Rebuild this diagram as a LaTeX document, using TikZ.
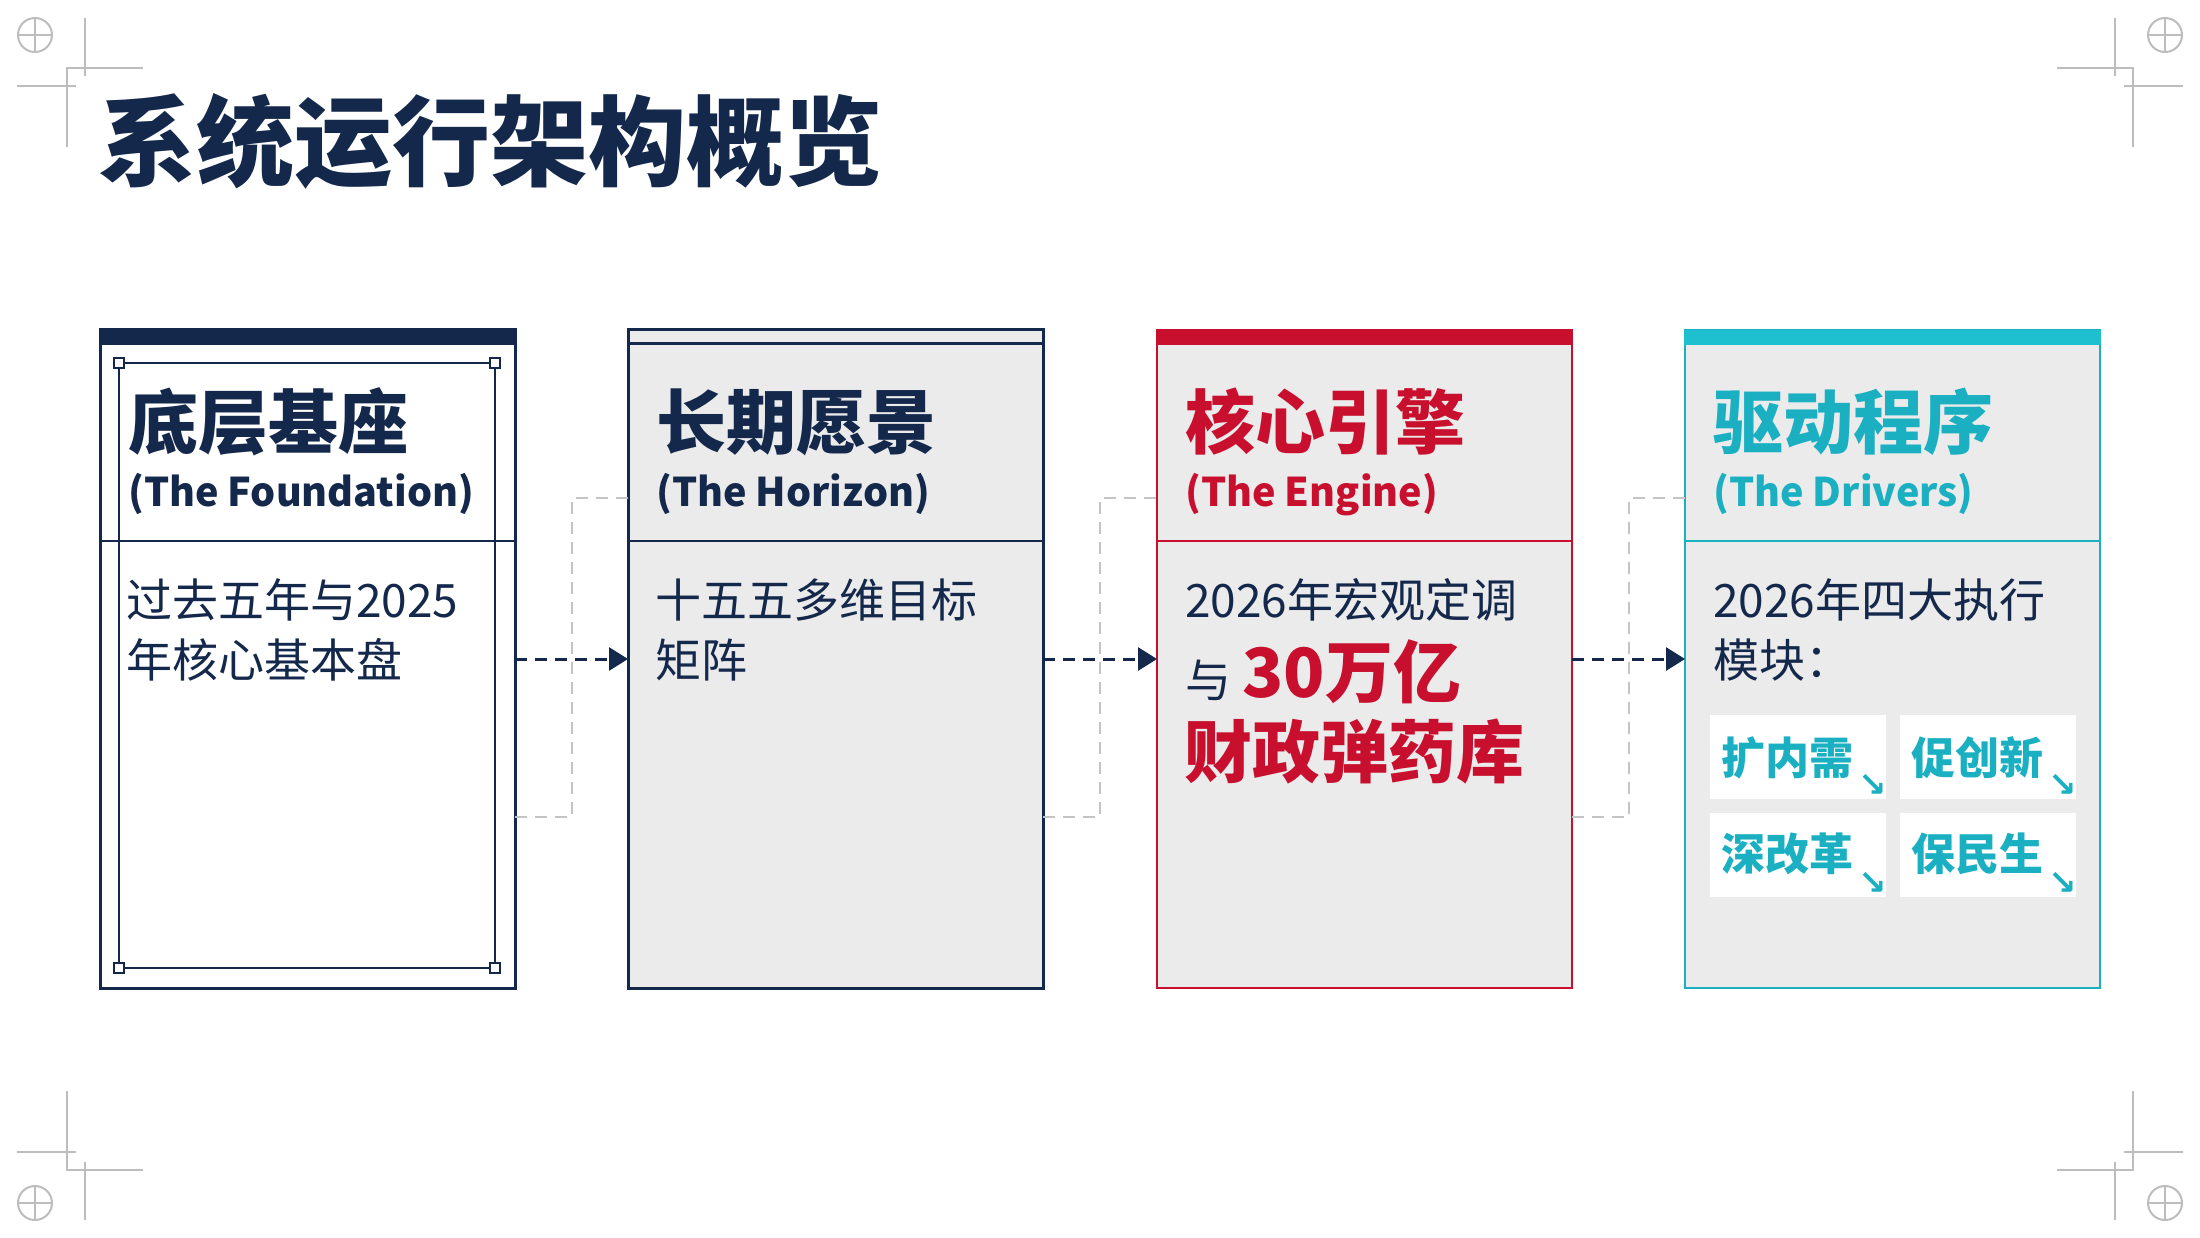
\documentclass[tikz,border=0pt]{standalone}
\usepackage{fontspec}
\setmainfont{Noto Sans CJK SC}
\newfontfamily\symfont{DejaVu Sans}
\usetikzlibrary{arrows.meta,calc}
\definecolor{navy}{HTML}{14284B}
\definecolor{cred}{HTML}{C8102E}
\definecolor{tealc}{HTML}{1AB0C2}
\definecolor{tealbar}{HTML}{1EC0CF}
\definecolor{panel}{HTML}{EBEBEB}
\definecolor{markgray}{HTML}{BDBDBD}
\definecolor{dashgray}{HTML}{C4C4C4}
\begin{document}
\begin{tikzpicture}[x=1pt,y=-1pt,
  panelbox/.style={line width=3pt, minimum width=415pt, minimum height=658pt, anchor=north west, inner sep=0pt, outer sep=0pt},
  titletxt/.style={anchor=base west, inner sep=0pt, font=\fontsize{98}{110}\selectfont\bfseries, text=navy},
  headcn/.style={anchor=base west, inner sep=0pt, font=\fontsize{70}{80}\selectfont\bfseries},
  headen/.style={anchor=base west, inner sep=0pt, font=\fontsize{39.5}{48}\selectfont\bfseries},
  bodytxt/.style={anchor=base west, inner sep=0pt, font=\fontsize{46}{56}\selectfont, text=navy},
  bigred/.style={anchor=base west, inner sep=0pt, font=\fontsize{68}{76}\selectfont\bfseries, text=cred},
  tilebox/.style={fill=white, minimum width=176pt, minimum height=84pt, anchor=north west, inner sep=0pt},
  tiletxt/.style={anchor=base west, inner sep=0pt, font=\fontsize{44}{50}\selectfont\bfseries, text=tealc},
  tilearrow/.style={inner sep=0pt, font=\symfont\fontsize{34}{34}\selectfont\bfseries, text=tealc},
  flow/.style={draw=navy, line width=3pt, dash pattern=on 12pt off 8pt, -{Triangle[length=19pt,width=23pt]}},
  bracket/.style={draw=dashgray, line width=2pt, dash pattern=on 12pt off 8pt},
  cropmark/.style={draw=markgray, line width=2pt},
  handle/.style={draw=navy, fill=white, line width=2pt, minimum size=10pt, inner sep=0pt}
]
\useasboundingbox (0,0) rectangle (2200,1238);
\fill[white] (0,0) rectangle (2200,1238);

% crop marks
\foreach \sx/\sy/\ox/\oy in {1/1/0/0, -1/1/2200/0, 1/-1/0/1238, -1/-1/2200/1238}{
  \begin{scope}[shift={(\ox,\oy)}, xscale=\sx, yscale=\sy]
    \draw[cropmark] (35,35) circle[radius=17];
    \draw[cropmark] (17,35) -- (53,35) (35,17) -- (35,53);
    \draw[cropmark] (85,18) -- (85,76);
    \draw[cropmark] (17,86) -- (76,86);
    \draw[cropmark] (143,68) -- (67,68) -- (67,147);
  \end{scope}
}

% title
\node[titletxt] (title) at (98,179) {系统运行架构概览};

% panels
\node[panelbox, draw=navy, fill=white] (b1) at (100,330) {};
\node[panelbox, draw=navy, fill=panel] (b2) at (628,330) {};
\node[panelbox, draw=cred, line width=2.5pt, fill=panel] (b3) at (1157,330) {};
\node[panelbox, draw=tealc, line width=2.5pt, fill=panel] (b4) at (1685,330) {};

% top bars
\fill[navy] ([xshift=-1.5pt]b1.north west) rectangle ([xshift=1.5pt,yshift=-15pt]b1.north east);
\draw[navy, line width=3pt] ([yshift=-14pt]b2.north west) -- ([yshift=-14pt]b2.north east);
\fill[cred] ([xshift=-1.25pt]b3.north west) rectangle ([xshift=1.25pt,yshift=-15pt]b3.north east);
\fill[tealbar] ([xshift=-1.25pt]b4.north west) rectangle ([xshift=1.25pt,yshift=-15pt]b4.north east);

% header dividers
\draw[navy, line width=2.5pt] ([yshift=-211pt]b1.north west) -- ([yshift=-211pt]b1.north east);
\draw[navy, line width=2.5pt] ([yshift=-211pt]b2.north west) -- ([yshift=-211pt]b2.north east);
\draw[cred, line width=2pt] ([yshift=-211pt]b3.north west) -- ([yshift=-211pt]b3.north east);
\draw[tealc, line width=2pt] ([yshift=-211pt]b4.north west) -- ([yshift=-211pt]b4.north east);

% inner frame of foundation
\coordinate (f1) at (119,363);
\coordinate (f2) at (495,363);
\coordinate (f3) at (495,968);
\coordinate (f4) at (119,968);
\draw[navy, line width=2pt] (f1) -- (f2) -- (f3) -- (f4) -- cycle;
\node[handle] (h1) at (f1) {};
\node[handle] (h2) at (f2) {};
\node[handle] (h3) at (f3) {};
\node[handle] (h4) at (f4) {};

% headers
\node[headcn, text=navy] (t1) at (128,448) {底层基座};
\node[headen, text=navy] (s1) at (128,506) {(The Foundation)};
\node[headcn, text=navy] (t2) at (656,448) {长期愿景};
\node[headen, text=navy] (s2) at (656,506) {(The Horizon)};
\node[headcn, text=cred] (t3) at (1185,448) {核心引擎};
\node[headen, text=cred] (s3) at (1185,506) {(The Engine)};
\node[headcn, text=tealc] (t4) at (1713,448) {驱动程序};
\node[headen, text=tealc] (s4) at (1713,506) {(The Drivers)};

% bodies
\node[bodytxt] (p1a) at (126,617) {过去五年与2025};
\node[bodytxt] (p1b) at (126,677) {年核心基本盘};
\node[bodytxt] (p2a) at (655,617) {十五五多维目标};
\node[bodytxt] (p2b) at (655,677) {矩阵};
\node[bodytxt] (p3a) at (1185,617) {2026年宏观定调};
\node[bodytxt] (p3b) at (1185,697) {与};
\node[bigred] (p3c) at (1242,697) {30万亿};
\node[bigred] (p3d) at (1184,777) {财政弹药库};
\node[bodytxt] (p4a) at (1713,617) {2026年四大执行};
\node[bodytxt] (p4b) at (1713,677) {模块：};

% driver tiles
\node[tilebox] (k1) at (1710,715) {};
\node[tilebox] (k2) at (1900,715) {};
\node[tilebox] (k3) at (1710,813) {};
\node[tilebox] (k4) at (1900,813) {};
\node[tiletxt] (k1t) at (1721,774) {扩内需};
\node[tiletxt] (k2t) at (1911,774) {促创新};
\node[tiletxt] (k3t) at (1721,870) {深改革};
\node[tiletxt] (k4t) at (1911,870) {保民生};
\node[tilearrow] (k1a) at ([xshift=-14pt,yshift=14pt]k1.south east) {↘};
\node[tilearrow] (k2a) at ([xshift=-14pt,yshift=14pt]k2.south east) {↘};
\node[tilearrow] (k3a) at ([xshift=-14pt,yshift=14pt]k3.south east) {↘};
\node[tilearrow] (k4a) at ([xshift=-14pt,yshift=14pt]k4.south east) {↘};

% connectors
\coordinate (m12) at ($(b1.east)!0.5!(b2.west)$);
\coordinate (m23) at ($(b2.east)!0.5!(b3.west)$);
\coordinate (m34) at ($(b3.east)!0.5!(b4.west)$);
\draw[bracket] ([yshift=-158pt]b1.east) -| (m12) |- ([yshift=161pt]b2.west);
\draw[bracket] ([yshift=-158pt]b2.east) -| (m23) |- ([yshift=161pt]b3.west);
\draw[bracket] ([yshift=-158pt]b3.east) -| (m34) |- ([yshift=161pt]b4.west);
\draw[flow] (b1.east) -- (b2.west);
\draw[flow] (b2.east) -- (b3.west);
\draw[flow] (b3.east) -- (b4.west);
\end{tikzpicture}
\end{document}
